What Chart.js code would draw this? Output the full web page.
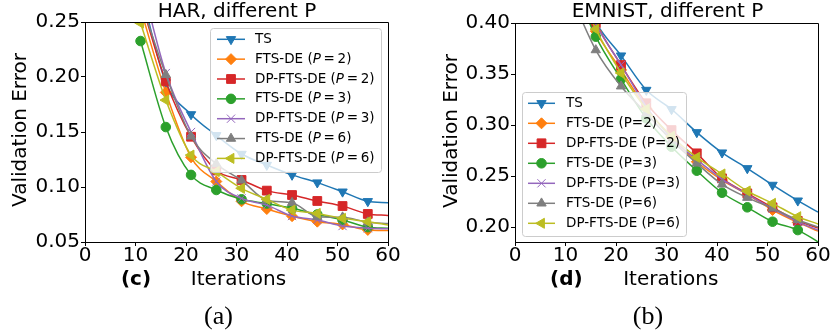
<!DOCTYPE html>
<html>
<head>
<meta charset="utf-8">
<script src="https://cdn.jsdelivr.net/npm/chart.js@4.4.0/dist/chart.umd.min.js"></script>
<style>
  body { margin: 0; background: #fff; width: 830px; height: 334px; overflow: hidden; position: relative; }
  .box { position: absolute; top: 0; width: 415px; height: 334px; }
</style>
</head>
<body>
<div class="box" style="left:0"><canvas id="har" width="415" height="334"></canvas></div>
<div class="box" style="left:415px"><canvas id="emnist" width="415" height="334"></canvas></div>
<script>
const iterations = [11, 16, 21, 26, 31, 36, 41, 46, 51, 56, 60];
const methodNames = ['TS', 'FTS-DE', 'DP-FTS-DE', 'FTS-DE', 'DP-FTS-DE', 'FTS-DE', 'DP-FTS-DE'];
const methodP = [null, 2, 2, 3, 3, 6, 6];
const xTicks = [0, 10, 20, 30, 40, 50, 60];
const harTicks = [0.05, 0.10, 0.15, 0.20, 0.25];
const emnistTicks = [0.20, 0.25, 0.30, 0.35, 0.40];

// HAR, validation error
const harTS   = [0.280, 0.195, 0.166, 0.147, 0.130, 0.120, 0.111, 0.104, 0.0957, 0.087, 0.0857];
const harFts2 = [0.262, 0.186, 0.127, 0.105, 0.087, 0.080, 0.0735, 0.0685, 0.066, 0.061, 0.0605];
const harDp2  = [0.270, 0.196, 0.1457, 0.115, 0.1064, 0.0967, 0.0927, 0.0873, 0.0827, 0.0755, 0.0742];
const harFts3 = [0.2327, 0.1545, 0.111, 0.0973, 0.0888, 0.085, 0.0806, 0.075, 0.070, 0.0635, 0.0625];
const harDp3  = [0.290, 0.2036, 0.150, 0.105, 0.0897, 0.0835, 0.0736, 0.070, 0.0645, 0.0625, 0.062];
const harFts6 = [0.270, 0.202, 0.146, 0.121, 0.106, 0.088, 0.0857, 0.073, 0.0725, 0.068, 0.0668];
const harDp6  = [0.249, 0.179, 0.129, 0.114, 0.0988, 0.0888, 0.079, 0.076, 0.0715, 0.0685, 0.0655];

// EMNIST, validation error
const emTS   = [0.460, 0.401, 0.368, 0.3343, 0.3154, 0.2928, 0.2729, 0.2575, 0.2412, 0.2258, 0.2146];
const emFts2 = [0.450, 0.392, 0.354, 0.3163, 0.288, 0.264, 0.246, 0.232, 0.2167, 0.2045, 0.196];
const emDp2  = [0.455, 0.3997, 0.3588, 0.3213, 0.295, 0.2722, 0.2477, 0.233, 0.2193, 0.206, 0.199];
const emFts3 = [0.445, 0.3866, 0.345, 0.3066, 0.2787, 0.2552, 0.2336, 0.2193, 0.2052, 0.197, 0.1855];
const emDp3  = [0.455, 0.399, 0.359, 0.318, 0.287, 0.266, 0.247, 0.232, 0.218, 0.205, 0.197];
const emFts6 = [0.428, 0.3735, 0.338, 0.3115, 0.285, 0.2624, 0.2418, 0.2288, 0.2183, 0.2069, 0.200];
const emDp6  = [0.450, 0.394, 0.351, 0.3157, 0.289, 0.2683, 0.252, 0.2353, 0.2232, 0.2101, 0.203];

const harSeries = [harTS, harFts2, harDp2, harFts3, harDp3, harFts6, harDp6];
const emSeries = [emTS, emFts2, emDp2, emFts3, emDp3, emFts6, emDp6];

const colors = ['#1f77b4', '#ff7f0e', '#d62728', '#2ca02c', '#9467bd', '#7f7f7f', '#bcbd22'];
const marks = [
  { style: 'triangle', rot: 180, r: 5.4 },
  { style: 'rectRot', rot: 0, r: 5.5 },
  { style: 'rect', rot: 0, r: 6.2 },
  { style: 'circle', rot: 0, r: 4.8 },
  { style: 'crossRot', rot: 0, r: 5.8 },
  { style: 'triangle', rot: 0, r: 5.4 },
  { style: 'triangle', rot: 270, r: 5.8 },
];
const FONT = '"DejaVu Sans"';

Chart.defaults.font.family = FONT;
Chart.defaults.color = '#000';

function drawMarker(ctx, m, x, y, color) {
  const r = m.r;
  ctx.save();
  ctx.translate(x, y);
  ctx.rotate(m.rot * Math.PI / 180);
  ctx.fillStyle = color;
  ctx.strokeStyle = color;
  ctx.lineWidth = 1;
  ctx.beginPath();
  if (m.style === 'circle') {
    ctx.arc(0, 0, r, 0, Math.PI * 2);
  } else if (m.style === 'triangle') {
    ctx.moveTo(0, -r);
    ctx.lineTo(r * 0.866, r * 0.5);
    ctx.lineTo(-r * 0.866, r * 0.5);
    ctx.closePath();
  } else if (m.style === 'rect') {
    const s = r * Math.SQRT1_2;
    ctx.rect(-s, -s, 2 * s, 2 * s);
  } else if (m.style === 'rectRot') {
    ctx.moveTo(0, -r); ctx.lineTo(r, 0); ctx.lineTo(0, r); ctx.lineTo(-r, 0);
    ctx.closePath();
  } else if (m.style === 'crossRot') {
    const d = r * Math.SQRT1_2;
    ctx.moveTo(-d, -d); ctx.lineTo(d, d);
    ctx.moveTo(-d, d); ctx.lineTo(d, -d);
    ctx.stroke();
    ctx.restore();
    return;
  }
  ctx.fill();
  ctx.stroke();
  ctx.restore();
}

function labelParts(i, math) {
  const p = methodP[i];
  if (p === null) return [{ t: methodNames[i] }];
  if (math) return [{ t: methodNames[i] + ' (' }, { t: 'P', it: true }, { t: '\u2009=\u2009' + p + ')' }];
  return [{ t: methodNames[i] + ' (P=' + p + ')' }];
}

// frame, legend box, titles and captions
const decor = {
  id: 'decor',
  afterDraw(chart, args, o) {
    const ctx = chart.ctx;
    const a = chart.chartArea;
    ctx.save();
    ctx.strokeStyle = '#000';
    ctx.lineWidth = 1;
    ctx.beginPath();
    ctx.moveTo(a.left, Math.round(a.top) + 0.5);
    ctx.lineTo(Math.round(a.right) + 0.5, Math.round(a.top) + 0.5);
    ctx.lineTo(Math.round(a.right) + 0.5, a.bottom);
    ctx.stroke();

    // legend
    const L = o.legend;
    ctx.beginPath();
    ctx.roundRect(L.x + 0.5, L.y + 0.5, L.w, L.h, 3);
    ctx.fillStyle = 'rgba(255,255,255,0.8)';
    ctx.fill();
    ctx.strokeStyle = '#cccccc';
    ctx.stroke();
    ctx.textBaseline = 'middle';
    ctx.textAlign = 'left';
    for (let i = 0; i < methodNames.length; i++) {
      const y = L.y0 + i * L.dy;
      ctx.strokeStyle = colors[i];
      ctx.lineWidth = 1.5;
      ctx.beginPath();
      ctx.moveTo(L.x0, y);
      ctx.lineTo(L.x1, y);
      ctx.stroke();
      drawMarker(ctx, marks[i], (L.x0 + L.x1) / 2, y, colors[i]);
      ctx.fillStyle = '#000';
      let tx = L.tx;
      for (const part of labelParts(i, L.math)) {
        ctx.font = (part.it ? 'italic ' : '') + '13.5px ' + FONT;
        ctx.fillText(part.t, tx, y);
        tx += ctx.measureText(part.t).width;
      }
    }

    ctx.fillStyle = '#000';
    ctx.textBaseline = 'alphabetic';
    ctx.textAlign = 'center';
    ctx.font = '20px ' + FONT;
    ctx.fillText(o.title, o.titleX, 17);
    ctx.fillText('Iterations', o.itX, 285);
    ctx.font = 'bold 20px ' + FONT;
    ctx.fillText(o.tag, o.tagX, 285);
    ctx.font = '26px "Liberation Serif"';
    ctx.fillText(o.cap, o.capX, 324);

    ctx.translate(o.ylabX, o.ylabY);
    ctx.rotate(-Math.PI / 2);
    ctx.textBaseline = 'middle';
    ctx.font = '20px ' + FONT;
    ctx.fillText('Validation Error', 0, 0);
    ctx.restore();
  }
};

function makeChart(id, series, yMin, yMax, yTicks, yWidth, padRight, padTop, deco) {
  const datasets = series.map((vals, i) => ({
    label: methodNames[i],
    data: iterations.map((x, j) => ({ x: x, y: vals[j] })),
    borderColor: colors[i],
    backgroundColor: colors[i],
    borderWidth: 1.5,
    pointStyle: marks[i].style,
    rotation: marks[i].rot,
    pointRadius: c => (c.dataIndex === iterations.length - 1 ? 0 : marks[i].r),
    pointBorderWidth: 1,
    pointBackgroundColor: colors[i],
    pointBorderColor: colors[i],
    cubicInterpolationMode: 'monotone',
    order: series.length - i,
    clip: 0
  }));
  return new Chart(document.getElementById(id), {
    type: 'line',
    data: { datasets },
    options: {
      responsive: false,
      animation: false,
      devicePixelRatio: 1,
      layout: { padding: { left: 0, right: padRight, top: padTop, bottom: 42 } },
      plugins: { legend: { display: false }, tooltip: { enabled: false }, decor: deco },
      scales: {
        x: {
          type: 'linear', min: 0, max: 60,
          afterBuildTicks: s => { s.ticks = xTicks.map(v => ({ value: v })); },
          afterFit: s => { s.height = 50; },
          ticks: { font: { size: 20 }, padding: -2, color: '#000', callback: v => String(v) },
          grid: { drawOnChartArea: false, drawTicks: true, tickLength: 4, tickColor: '#000' },
          border: { color: '#000', width: 1 }
        },
        y: {
          type: 'linear', min: yMin, max: yMax,
          afterBuildTicks: s => { s.ticks = yTicks.map(v => ({ value: v })); },
          afterFit: s => { s.width = yWidth; },
          ticks: { font: { size: 20 }, padding: 1, color: '#000', callback: v => v.toFixed(2) },
          grid: { drawOnChartArea: false, drawTicks: true, tickLength: 4, tickColor: '#000' },
          border: { color: '#000', width: 1 }
        }
      }
    },
    plugins: [decor]
  });
}

makeChart('har', harSeries, 0.05, 0.25, harTicks, 85, 27, 22, {
  title: 'HAR, different P', titleX: 237, ylabX: 21, ylabY: 130,
  itX: 238.5, tag: '(c)', tagX: 136, cap: '(a)', capX: 218.5,
  legend: { x: 210, y: 28, w: 171, h: 144, x0: 217, x1: 245, tx: 255, y0: 39.3, dy: 19.85, math: true }
});
makeChart('emnist', emSeries, 0.1853, 0.40, emnistTicks, 100, 12, 23, {
  title: 'EMNIST, different P', titleX: 252.5, ylabX: 37, ylabY: 131,
  itX: 255.8, tag: '(d)', tagX: 151.3, cap: '(b)', capX: 233,
  legend: { x: 107, y: 92, w: 164, h: 144, x0: 113, x1: 140, tx: 151, y0: 103.3, dy: 20, math: false }
});
</script>
</body>
</html>
